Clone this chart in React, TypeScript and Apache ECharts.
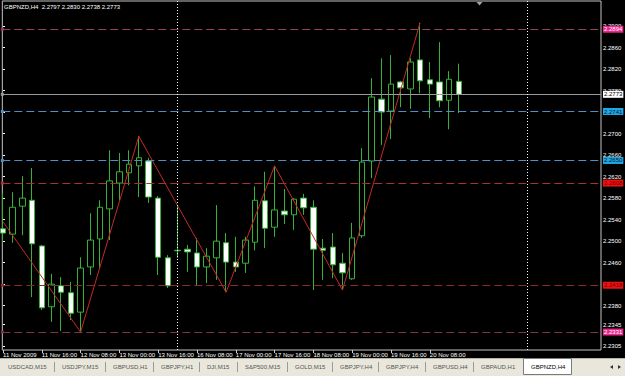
import React, { useEffect, useRef } from 'react';
import * as echarts from 'echarts';

// ---------- data ----------
const titleText = 'GBPNZD,H4  2.2797 2.2830 2.2738 2.2773';

const opens = [
  2.2523, 2.2513, 2.2565, 2.2576, 2.2491, 2.2378, 2.2417, 2.2404, 2.2368, 2.2452,
  2.2504, 2.2560, 2.2608, 2.2627, 2.2640, 2.2649, 2.2580, 2.2469, 2.2483, 2.2485,
  2.2478, 2.2452, 2.2469, 2.2497, 2.2461, 2.2459, 2.2498, 2.2575, 2.2526, 2.2556,
  2.2549, 2.2580, 2.2563, 2.2487, 2.2489, 2.2459, 2.2430, 2.2510, 2.2649, 2.2764,
  2.2742, 2.2796, 2.2783, 2.2837, 2.2800, 2.2796, 2.2762, 2.2797,
];
const highs = [
  2.2589, 2.2591, 2.2621, 2.2636, 2.2493, 2.2439, 2.2433, 2.2424, 2.2470, 2.2552,
  2.2576, 2.2669, 2.2664, 2.2669, 2.2695, 2.2655, 2.2584, 2.2474, 2.2567, 2.2493,
  2.2506, 2.2487, 2.2567, 2.2515, 2.2508, 2.2508, 2.2602, 2.2629, 2.2640, 2.2597,
  2.2580, 2.2588, 2.2576, 2.2504, 2.2515, 2.2478, 2.2534, 2.2673, 2.2803, 2.2840,
  2.2846, 2.2798, 2.2840, 2.2906, 2.2833, 2.2870, 2.2816, 2.2830,
];
const lows = [
  2.2498, 2.2497, 2.2511, 2.2396, 2.2372, 2.2350, 2.2333, 2.2353, 2.2331, 2.2437,
  2.2450, 2.2502, 2.2576, 2.2604, 2.2582, 2.2571, 2.2437, 2.2413, 2.2469, 2.2443,
  2.2418, 2.2422, 2.2428, 2.2405, 2.2443, 2.2441, 2.2483, 2.2487, 2.2508, 2.2532,
  2.2521, 2.2549, 2.2409, 2.2428, 2.2431, 2.2409, 2.2428, 2.2506, 2.2617, 2.2679,
  2.2690, 2.2749, 2.2746, 2.2775, 2.2729, 2.2749, 2.2708, 2.2738,
];
const closes = [
  2.2515, 2.2563, 2.2580, 2.2495, 2.2376, 2.2420, 2.2405, 2.2366, 2.2450, 2.2502,
  2.2563, 2.2612, 2.2629, 2.2643, 2.2655, 2.2582, 2.2470, 2.2417, 2.2482, 2.2480,
  2.2452, 2.2472, 2.2500, 2.2461, 2.2452, 2.2502, 2.2576, 2.2524, 2.2558, 2.2549,
  2.2578, 2.2562, 2.2485, 2.2483, 2.2456, 2.2441, 2.2506, 2.2647, 2.2768, 2.2740,
  2.2792, 2.2785, 2.2833, 2.2798, 2.2792, 2.2761, 2.2801, 2.2773,
];

// zigzag vertices: bar index and price
const zigzagIdx = [0, 8, 14, 23, 28, 35, 43];
const zigzagVal = [2.2536, 2.2331, 2.2695, 2.2405, 2.2640, 2.2409, 2.2906];

// horizontal price levels
const levelValues = [2.2894, 2.2773, 2.2741, 2.2650, 2.2608, 2.2418, 2.2331];

// period separators (bar index)
const separatorIdx = [18, 54];

// axis ticks
const priceTicks = [
  2.2900, 2.2860, 2.2820, 2.2780, 2.2740, 2.2700, 2.2660, 2.2620, 2.2580, 2.2540,
  2.2500, 2.2460, 2.2420, 2.2380, 2.2345, 2.2305,
];
const dateTickIdx = [0, 4, 8, 12, 16, 20, 24, 28, 32, 36, 40, 44];
const dateLabels = [
  '11 Nov 2009', '11 Nov 16:00', '12 Nov 08:00', '13 Nov 00:00', '13 Nov 16:00',
  '16 Nov 08:00', '17 Nov 00:00', '17 Nov 16:00', '18 Nov 08:00', '19 Nov 00:00',
  '19 Nov 16:00', '20 Nov 08:00',
];

const tabNames = [
  'USDCAD,M15', 'USDJPY,M15', 'GBPUSD,H1', 'GBPJPY,H1', 'DJI,M15', 'S&P500,M15',
  'GOLD,M15', 'GBPJPY,H4', 'GBPJPY,H4', 'GBPUSD,H4', 'GBPAUD,H1', 'GBPNZD,H4',
];

// ---------- layout / styles ----------
const W = 625;
const H = 376;
const X_MIN = -0.07;
const X_MAX = 61.65;
const Y_MIN = 2.22976;
const Y_MAX = 2.29465;
const GREEN = '#36b236';
const FONT = 'Liberation Sans, Arial, sans-serif';

const levelStyles = [
  { color: '#9a3d55', type: [8, 4], box: '#e8268c', text: '#ffffff', sym: false },
  { color: '#9a9a9a', type: 'solid', box: '#ffffff', text: '#000000', sym: false },
  { color: '#4f8fc8', type: [8, 4], box: '#1fa8e8', text: '#00142a', sym: true },
  { color: '#4f8fc8', type: [8, 4], box: '#1fa8e8', text: '#00142a', sym: false },
  { color: '#a83232', type: [8, 4], box: '#ee1111', text: '#6a0000', sym: false },
  { color: '#8c2a2a', type: [8, 4], box: '#ee1111', text: '#6a0000', sym: true },
  { color: '#7d3548', type: [8, 4], box: '#e8268c', text: '#ffffff', sym: false },
];

const tabX = [8, 62, 113, 161, 207, 245, 295, 340, 386, 433, 481, 531];

export default function App() {
  const ref = useRef<HTMLDivElement>(null);

  useEffect(() => {
    if (!ref.current) return;
    const chart = echarts.init(ref.current, undefined, { renderer: 'svg' });

    const candleData = opens.map((o, i) => [i, o, closes[i], lows[i], highs[i]]);
    const zigzagData = zigzagIdx.map((x, i) => [x, zigzagVal[i]]);

    const levelLines = levelValues.map((v, i) => {
      const s = levelStyles[i];
      return {
        yAxis: v,
        symbol: s.sym ? ['rect', 'rect'] : ['none', 'none'],
        symbolSize: 3,
        itemStyle: { color: s.sym ? s.color : undefined },
        lineStyle: { color: s.color, type: s.type, width: 1 },
        label: {
          show: true,
          position: 'end',
          distance: 2,
          formatter: v.toFixed(4),
          color: s.text,
          backgroundColor: s.box,
          fontSize: 6,
          lineHeight: 7,
          fontFamily: FONT,
          padding: [0, 1, 0, 1],
        },
      };
    });

    const sepLines = separatorIdx.map((x) => ({
      xAxis: x,
      lineStyle: { color: '#ffffff', type: [1, 2], width: 1 },
      label: { show: false },
    }));

    const tabGraphics: any[] = [
      { type: 'rect', shape: { x: 0, y: 358, width: W, height: 18 }, style: { fill: '#e9e7dc' }, silent: true },
      { type: 'line', shape: { x1: 0, y1: 358.5, x2: W, y2: 358.5 }, style: { stroke: '#b8b4a4', lineWidth: 1 }, silent: true },
      { type: 'rect', shape: { x: 523.5, y: 358.5, width: 48, height: 16 }, style: { fill: '#ffffff', stroke: '#7a7a7a', lineWidth: 1 }, silent: true },
    ];
    tabNames.forEach((name, i) => {
      tabGraphics.push({
        type: 'text', x: tabX[i], y: 367, silent: true,
        style: { text: name, fill: i === tabNames.length - 1 ? '#000000' : '#555555', font: `6px ${FONT}`, verticalAlign: 'middle' },
      });
      if (i > 0 && i < tabNames.length - 1) {
        tabGraphics.push({
          type: 'line', silent: true,
          shape: { x1: tabX[i] - 7.5, y1: 362, x2: tabX[i] - 7.5, y2: 372 },
          style: { stroke: '#9a9a9a', lineWidth: 1 },
        });
      }
    });
    tabGraphics.push(
      { type: 'polygon', shape: { points: [[610, 367], [613, 365], [613, 369]] }, style: { fill: '#333' }, silent: true },
      { type: 'polygon', shape: { points: [[621, 367], [618, 365], [618, 369]] }, style: { fill: '#333' }, silent: true },
    );

    const option: any = {
      animation: false,
      backgroundColor: '#000000',
      textStyle: { fontFamily: FONT },
      grid: {
        left: 1, right: 24, top: 1, bottom: 26,
        show: true, borderColor: '#c4c4c4', borderWidth: 1, backgroundColor: '#000000',
      },
      xAxis: {
        type: 'value',
        min: X_MIN,
        max: X_MAX,
        axisLine: { show: false },
        splitLine: { show: false },
        axisTick: { show: true, customValues: dateTickIdx, length: 3, lineStyle: { color: '#d0d0d0' } },
        axisLabel: {
          show: true,
          customValues: dateTickIdx,
          formatter: (v: number) => {
            const k = dateTickIdx.indexOf(Math.round(v));
            return k >= 0 ? dateLabels[k] : '';
          },
          color: '#ffffff',
          fontSize: 6,
          margin: 2,
          align: 'left',
          fontFamily: FONT,
        },
      },
      yAxis: {
        type: 'value',
        position: 'right',
        min: Y_MIN,
        max: Y_MAX,
        axisLine: { show: false },
        splitLine: { show: false },
        axisTick: { show: true, customValues: priceTicks, length: 2, lineStyle: { color: '#ffffff' } },
        axisLabel: {
          show: true,
          customValues: priceTicks,
          formatter: (v: number) => v.toFixed(4),
          color: '#ffffff',
          fontSize: 6,
          margin: 2,
          fontFamily: FONT,
        },
      },
      graphic: [
        {
          type: 'text', x: 4, y: 7, silent: true,
          style: { text: titleText, fill: '#ffffff', font: `6px ${FONT}`, verticalAlign: 'middle' },
        },
        { type: 'polygon', shape: { points: [[476.5, 2], [482.5, 2], [479.5, 5.5]] }, style: { fill: '#a0a0a0' }, silent: true },
        ...tabGraphics,
      ],
      series: [
        {
          name: 'levels',
          type: 'line',
          data: [],
          z: 1,
          markLine: {
            silent: true,
            animation: false,
            precision: 6,
            symbol: ['none', 'none'],
            data: [...levelLines, ...sepLines],
          },
        },
        {
          name: 'GBPNZD',
          type: 'candlestick',
          data: candleData,
          encode: { x: 0, y: [1, 2, 3, 4] },
          barWidth: 6,
          z: 2,
          itemStyle: {
            color: '#000000',
            color0: '#ffffff',
            borderColor: GREEN,
            borderColor0: GREEN,
            borderWidth: 1,
          },
        },
        {
          name: 'zigzag',
          type: 'line',
          data: zigzagData,
          showSymbol: false,
          z: 3,
          lineStyle: { color: '#c62828', width: 1 },
        },
      ],
    };

    chart.setOption(option);
    return () => chart.dispose();
  }, []);

  return (
    <div
      ref={ref}
      style={{ position: 'fixed', left: 0, top: 0, width: W, height: H, background: '#000' }}
    />
  );
}
